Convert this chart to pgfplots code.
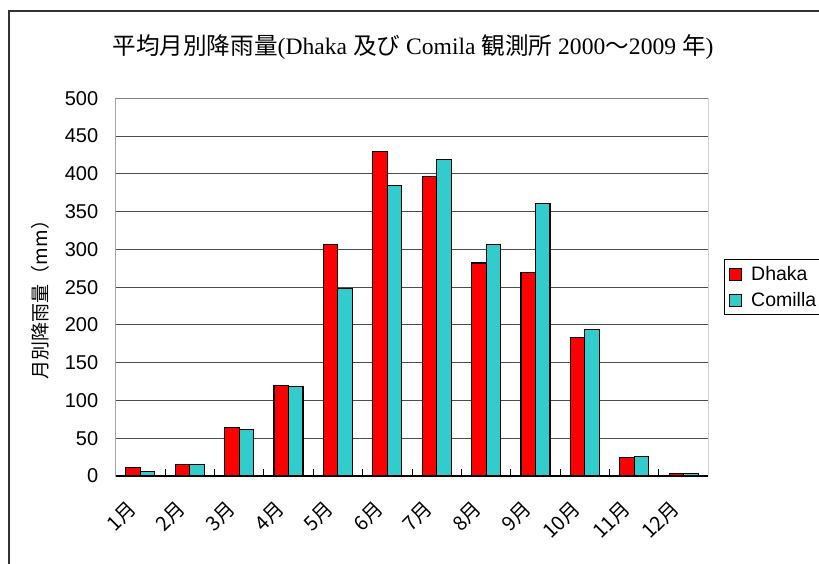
\documentclass[border=0pt]{standalone}
\usepackage{fontspec}
\usepackage{pgfplots}
\pgfplotsset{compat=1.18}
\setmainfont{Liberation Serif}
\newfontfamily\cjk{Noto Sans CJK JP}
\newfontfamily\sans{Liberation Sans}
\definecolor{dhaka}{HTML}{FF0000}
\definecolor{comilla}{HTML}{33CCCC}
\begin{document}
\begin{tikzpicture}[x=1pt,y=1pt]
\useasboundingbox (0,0) rectangle (819,563);
% chart frame (left and top visible)
\draw[line width=1.6pt, black!80] (9,-20) -- (9,552) -- (840,552);
\node[font=\fontsize{23.6}{26}\selectfont, inner sep=0pt] at (413,516)
  {{\cjk 平均月別降雨量}(Dhaka {\cjk 及び} Comila {\cjk 観測所} 2000{\cjk ～}2009 {\cjk 年})};
\node[rotate=90, font=\cjk\fontsize{19}{22}\selectfont, inner sep=0pt] at (40,268) {月別降雨量（mm）};
\begin{axis}[
  at={(115.7pt,87pt)}, anchor=south west,
  scale only axis, width=592.6pt, height=377.7pt,
  ybar, ybar=0pt, bar width=14.5pt,
  xmin=0.5, xmax=12.5, ymin=0, ymax=500,
  enlarge x limits=false,
  ytick={0,50,...,500},
  xtick={1,...,12},
  xticklabels={1月,2月,3月,4月,5月,6月,7月,8月,9月,10月,11月,12月},
  minor xtick={1.5,2.5,...,11.5},
  major x tick style={draw=none},
  major y tick style={draw=none},
  minor tick length=7pt,
  tick align=inside,
  tick pos=left,
  minor tick style={black, line width=0.9pt},
  xticklabel style={font=\cjk\fontsize{20}{22}\selectfont, rotate=45, anchor=north east, inner sep=0pt, xshift=-26pt, yshift=-6pt},
  yticklabel style={font=\sans\fontsize{20}{22}\selectfont, xshift=-14pt},
  /pgf/number format/assume math mode=true,
  ymajorgrids, major grid style={black!70, line width=1.1pt},
  axis line style={draw=none},
  legend style={at={(1.0265,0.5)}, anchor=west, draw=black, line width=0.8pt,
    font=\sans\fontsize{19.5}{22}\selectfont, inner xsep=5pt, inner ysep=5pt,
    row sep=6pt, cells={anchor=west}},
  legend image code/.code={\draw[#1, line width=0.8pt] (0pt,-6pt) rectangle (12pt,6pt);},
]
\addplot[fill=dhaka, draw=black, line width=1.1pt] coordinates {
 (1,11.5) (2,15.4) (3,64) (4,120) (5,306) (6,430) (7,397) (8,282) (9,269) (10,183) (11,24) (12,3)};
\addplot[fill=comilla, draw=black, line width=1.1pt] coordinates {
 (1,6) (2,15.5) (3,62) (4,118) (5,248) (6,385) (7,419) (8,306) (9,361) (10,194) (11,26) (12,3)};
\legend{\hspace{7pt}Dhaka,\hspace{7pt}Comilla}
\draw[black!50, line width=1.3pt] (rel axis cs:0,1) -- (rel axis cs:1,1) -- (rel axis cs:1,0);
\draw[black, line width=1.3pt] (rel axis cs:0,1) -- (rel axis cs:0,0) -- (rel axis cs:1,0);
\end{axis}
\end{tikzpicture}
\end{document}
